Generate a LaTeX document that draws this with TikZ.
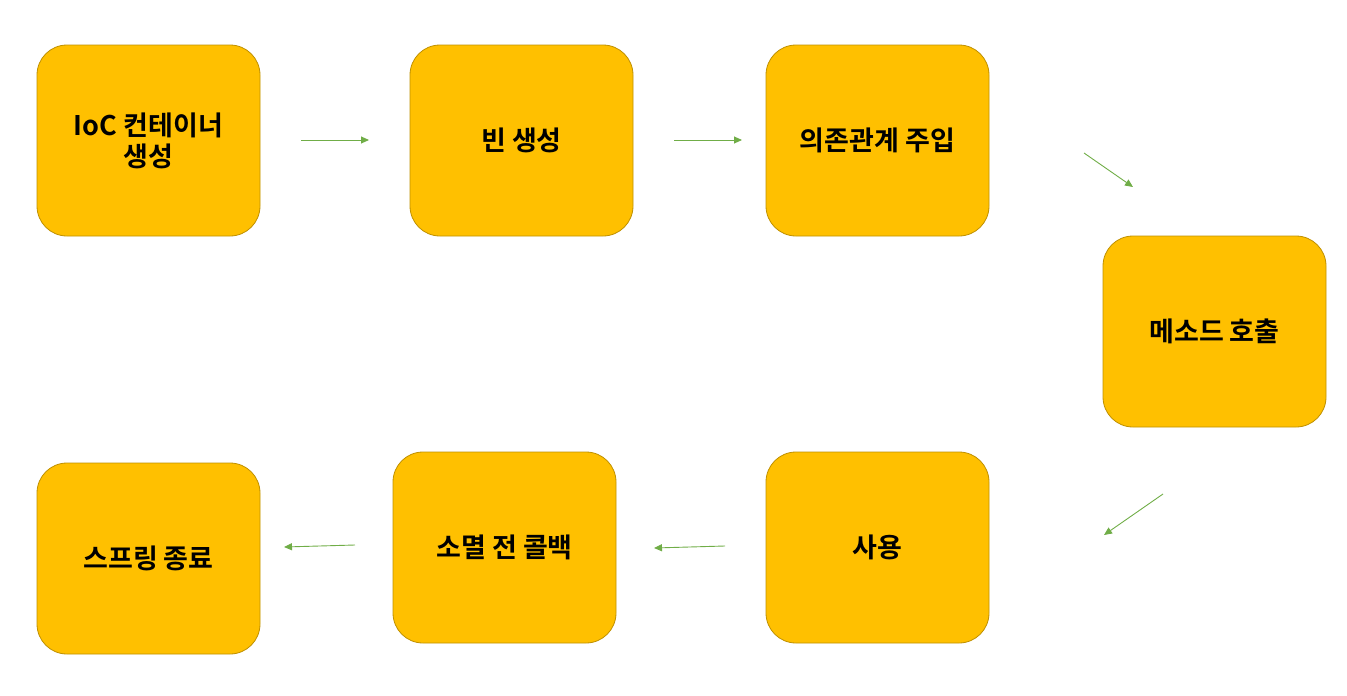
\documentclass[tikz,border=0pt]{standalone}
\usepackage{fontspec}
\newfontfamily\kr{Noto Sans CJK KR}[BoldFont={* Bold}]
\usetikzlibrary{arrows.meta}
\definecolor{boxfill}{HTML}{FFC000}
\definecolor{boxline}{HTML}{BF9000}
\definecolor{arr}{HTML}{70AD47}
\tikzset{
  stepbox/.style={draw=boxline, fill=boxfill, line width=0.8pt, rounded corners=30pt,
    minimum width=223pt, minimum height=191pt, inner sep=0pt, align=center,
    font=\kr\bfseries\fontsize{27}{31}\selectfont},
  flow/.style={draw=arr, line width=0.9pt, -{Triangle[length=8pt,width=7pt]}}
}
\begin{document}
\begin{tikzpicture}[x=1pt,y=-1pt]
\useasboundingbox (0,0) rectangle (1347,696);
\node[stepbox] (b1) at (148.5,140.5) {IoC 컨테이너\\생성};
\node[stepbox] (b2) at (521.5,140.5) {빈 생성};
\node[stepbox] (b3) at (877.5,140.5) {의존관계 주입};
\node[stepbox] (b4) at (1214.5,331.5) {메소드 호출};
\node[stepbox] (b5) at (877.5,547.5) {사용};
\node[stepbox] (b6) at (504.5,547.5) {소멸 전 콜백};
\node[stepbox] (b7) at (148.5,558.5) {스프링 종료};
\coordinate (a1s) at (301,140); \coordinate (a1e) at (369,140);
\coordinate (a2s) at (674,140); \coordinate (a2e) at (742,140);
\coordinate (a3s) at (1084,153); \coordinate (a3e) at (1133,187);
\coordinate (a4s) at (1163,494); \coordinate (a4e) at (1104,535);
\coordinate (a5s) at (725,546); \coordinate (a5e) at (654,548);
\coordinate (a6s) at (355,545); \coordinate (a6e) at (284,547);
\draw[flow] (a1s) -- (a1e);
\draw[flow] (a2s) -- (a2e);
\draw[flow] (a3s) -- (a3e);
\draw[flow] (a4s) -- (a4e);
\draw[flow] (a5s) -- (a5e);
\draw[flow] (a6s) -- (a6e);
\end{tikzpicture}
\end{document}
